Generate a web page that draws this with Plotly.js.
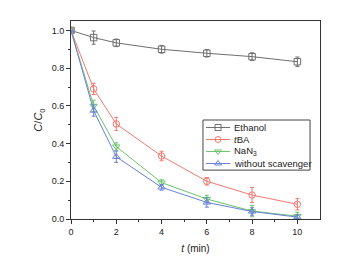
<!DOCTYPE html>
<html><head><meta charset="utf-8">
<script src="https://cdn.plot.ly/plotly-3.0.1.min.js"></script>
<style>body{margin:0;background:#fff}#c{width:353px;height:258px}</style>
</head><body><div id="c"></div>
<script>
const time = [0, 1, 2, 4, 6, 8, 10];
const ethanol = [1.0, 0.962, 0.934, 0.900, 0.879, 0.861, 0.834];
const ethanolErr = [0, 0.035, 0.02, 0.02, 0.02, 0.02, 0.025];
const tba = [1.0, 0.69, 0.504, 0.334, 0.200, 0.127, 0.078];
const tbaErr = [0, 0.03, 0.035, 0.025, 0.02, 0.04, 0.03];
const nan3 = [1.0, 0.60, 0.384, 0.193, 0.106, 0.042, 0.015];
const nan3Err = [0, 0.03, 0.02, 0.015, 0.02, 0.03, 0.02];
const without = [1.0, 0.575, 0.330, 0.168, 0.088, 0.040, 0.010];
const withoutErr = [0, 0.03, 0.03, 0.015, 0.025, 0.02, 0.01];
const names = ['Ethanol', '<i>t</i>BA', 'NaN<sub>3</sub>', 'without scavenger'];
const colors = ['#6e6e6e', '#f3796f', '#6cc46c', '#6a80d6'];
const symbols = ['square-open', 'circle-open', 'triangle-down-open', 'triangle-up-open'];
const series = [ethanol, tba, nan3, without];
const errs = [ethanolErr, tbaErr, nan3Err, withoutErr];

const FONT = 'Liberation Sans, Arial, sans-serif';
const data = series.map((y, i) => ({
  x: time, y: y, name: names[i], type: 'scatter', mode: 'lines+markers', showlegend: false,
  line: {color: colors[i], width: 1},
  marker: {symbol: symbols[i], size: 6.5, color: colors[i], line: {color: colors[i], width: 1}},
  error_y: {type: 'data', array: errs[i], visible: true, color: colors[i], thickness: 1, width: 2}
}));

// hand-built compact legend (inside plot area, paper fractions)
const LG = {x0: 0.530, x1: 0.960, y0: 0.247, y1: 0.500, rowTop: 0.462, rowStep: 0.0605,
  lineX0: 0.542, lineX1: 0.639, textX: 0.647};
const rowY = names.map((_, i) => LG.rowTop - i * LG.rowStep);
const shapes = [{type: 'rect', xref: 'paper', yref: 'paper', x0: LG.x0, x1: LG.x1, y0: LG.y0, y1: LG.y1,
  line: {color: '#444', width: 1}, fillcolor: 'rgba(255,255,255,0)', layer: 'below'}];
names.forEach((_, i) => shapes.push({type: 'line', xref: 'paper', yref: 'paper',
  x0: LG.lineX0, x1: LG.lineX1, y0: rowY[i], y1: rowY[i], line: {color: colors[i], width: 1}, layer: 'below'}));
names.forEach((_, i) => data.push({x: [(LG.lineX0 + LG.lineX1) / 2], y: [rowY[i]], xaxis: 'x2', yaxis: 'y2',
  type: 'scatter', mode: 'markers', showlegend: false, hoverinfo: 'skip',
  marker: {symbol: symbols[i], size: 6, color: colors[i], line: {color: colors[i], width: 1}}}));
const annotations = names.map((n, i) => ({xref: 'paper', yref: 'paper', x: LG.textX, y: rowY[i],
  xanchor: 'left', yanchor: 'middle', text: n, showarrow: false,
  font: {family: FONT, size: 9.5, color: '#222'}}));

const axFont = {family: FONT, size: 9, color: '#222'};
const layout = {
  width: 353, height: 258,
  margin: {l: 71, r: 33, t: 21, b: 39},
  paper_bgcolor: '#fff', plot_bgcolor: '#fff',
  showlegend: false, shapes: shapes, annotations: annotations,
  xaxis: {range: [0, 11], tickvals: [0, 2, 4, 6, 8, 10], ticks: 'outside', ticklen: 4,
    tickcolor: '#333', showline: true, linecolor: '#333', linewidth: 1, mirror: true,
    showgrid: false, zeroline: false, tickfont: axFont,
    minor: {tickvals: [1, 3, 5, 7, 9], ticks: 'outside', ticklen: 2, tickcolor: '#333'},
    title: {text: '<i>t</i> (min)', font: {family: FONT, size: 10, color: '#222'}, standoff: 9}},
  yaxis: {range: [0, 1.05], tickvals: [0, 0.2, 0.4, 0.6, 0.8, 1.0], ticktext: ['0.0', '0.2', '0.4', '0.6', '0.8', '1.0'],
    ticks: 'outside', ticklen: 4, tickcolor: '#333', showline: true, linecolor: '#333', linewidth: 1, mirror: true,
    showgrid: false, zeroline: false, tickfont: axFont,
    minor: {tickvals: [0.1, 0.3, 0.5, 0.7, 0.9], ticks: 'outside', ticklen: 2, tickcolor: '#333'},
    title: {text: '<i>C</i>/<i>C</i><sub>0</sub>', font: {family: FONT, size: 11, color: '#222'}, standoff: 6}},
  xaxis2: {overlaying: 'x', range: [0, 1], visible: false, fixedrange: true},
  yaxis2: {overlaying: 'y', range: [0, 1], visible: false, fixedrange: true}
};
Plotly.newPlot('c', data, layout, {staticPlot: true});
</script></body></html>
